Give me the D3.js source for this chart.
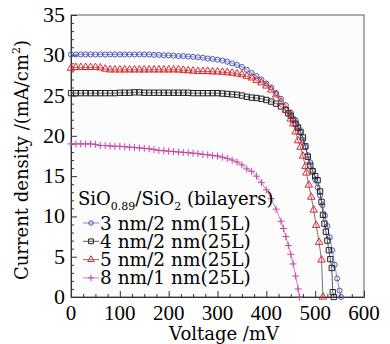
<!DOCTYPE html>
<html>
<head>
<meta charset="utf-8">
<script src="https://cdn.jsdelivr.net/npm/d3@7"></script>
<style>
  body { margin: 0; background: #fff; }
  svg { font-family: "DejaVu Serif", "Liberation Serif", serif; }
  .num { font-family: "Liberation Serif", serif; }
</style>
</head>
<body>
<div id="chart"></div>
<script>
// J-V curves, SiO0.89/SiO2 bilayer cells
// voltage (mV) / current density (mA/cm2)

const xTicks = [0, 100, 200, 300, 400, 500, 600];
const yTicks = [0, 5, 10, 15, 20, 25, 30, 35];

const seriesNames = ['3 nm/2 nm(15L)', '4 nm/2 nm(25L)', '5 nm/2 nm(25L)', '8 nm/1 nm(25L)'];

const blueV = [0,10,20,30,40,50,60,70,80,90,100,110,120,130,140,150,160,170,180,190,200,210,220,230,240,250,260,270,280,290,300,310,320,330,340,350,360,370,380,390,400,410,420,430,440,450,460,465,470,475,480,485,490,495,500,505,510,515,520,525,530,535,540,545,550,553];
const blueJ = [30.1,30.1,30.1,30.1,30.1,30.1,30.1,30.1,30.1,30.1,30.1,30.1,30.1,30.1,30.1,30.1,30.1,30.05,30.05,30.0,30.0,29.95,29.9,29.9,29.85,29.8,29.75,29.7,29.6,29.55,29.45,29.35,29.2,29.0,28.8,28.55,28.2,27.8,27.4,27.0,26.5,26.0,25.3,24.6,23.8,22.9,21.9,21.2,20.4,19.5,18.6,17.6,16.7,15.7,14.6,13.6,12.6,11.4,10.1,8.8,7.4,5.8,4.0,2.3,0.8,0];

const blackV = [0,10,20,30,40,50,60,70,80,90,100,110,120,130,140,150,160,170,180,190,200,210,220,230,240,250,260,270,280,290,300,310,320,330,340,350,360,370,380,390,400,410,420,430,440,445,450,455,460,465,470,475,480,485,490,495,500,505,510,513,516,519,522,525,528,531,534,536,538];
const blackJ = [25.3,25.3,25.3,25.3,25.3,25.3,25.3,25.3,25.3,25.3,25.35,25.35,25.35,25.4,25.4,25.35,25.35,25.35,25.35,25.35,25.35,25.35,25.35,25.35,25.35,25.3,25.3,25.3,25.3,25.3,25.3,25.25,25.2,25.15,25.1,25.0,24.85,24.75,24.7,24.6,24.45,24.25,24.0,23.65,23.2,22.8,22.5,22.0,21.5,21.0,20.5,19.8,18.7,17.4,16.3,15.6,15.0,14.5,13.1,11.8,10.2,9.1,8.1,7.0,5.8,4.7,3.6,0.6,0];

const redV = [0,10,20,30,40,50,60,70,80,90,100,110,120,130,140,150,160,170,180,190,200,210,220,230,240,250,260,270,280,290,300,310,320,330,340,350,360,370,380,390,400,410,420,430,440,450,455,460,465,470,475,480,482,487,492,497,502,508,513,516];
const redJ = [28.4,28.5,28.5,28.5,28.5,28.5,28.45,28.3,28.2,28.2,28.2,28.2,28.2,28.2,28.2,28.2,28.2,28.2,28.2,28.2,28.2,28.2,28.2,28.15,28.1,28.05,28.0,28.0,28.0,27.95,27.95,27.9,27.85,27.8,27.7,27.6,27.4,27.2,26.9,26.6,26.2,25.7,25.1,24.2,23.2,22.1,21.5,20.5,19.4,18.6,17.5,16.2,15.4,13.9,12.4,10.8,8.9,6.8,4.6,0];

const pinkV = [0,10,20,30,40,50,60,70,80,90,100,110,120,130,140,150,160,170,180,190,200,210,220,230,240,250,260,270,280,290,300,310,320,330,340,350,360,370,380,390,400,410,420,430,435,440,445,450,455,460,465,468];
const pinkJ = [19.0,19.0,19.0,19.0,19.0,18.95,18.8,18.8,18.75,18.7,18.7,18.65,18.6,18.55,18.5,18.45,18.4,18.3,18.2,18.15,18.1,18.05,18.0,17.95,17.9,17.85,17.8,17.7,17.65,17.55,17.5,17.35,17.2,17.0,16.75,16.4,15.9,15.6,15.0,14.2,13.3,12.2,10.9,9.4,8.5,7.5,6.4,5.3,4.1,2.6,1.0,0];

const width = 390, height = 344;
const svg = d3.select('#chart').append('svg')
  .attr('width', width)
  .attr('height', height);

const x = d3.scaleLinear().domain([0, 600]).range([71, 364]);
const y = d3.scaleLinear().domain([0, 35]).range([297, 15]);

// thin plus marker
const plusSymbol = {
  draw(ctx, size) {
    const r = Math.sqrt(size) / 2;
    ctx.moveTo(-r, 0); ctx.lineTo(r, 0);
    ctx.moveTo(0, -r); ctx.lineTo(0, r);
  }
};

const series = [
  { name: seriesNames[0], v: blueV, j: blueJ, mark: '#4b56b8', line: '#6a72b8', sym: d3.symbolCircle, size: 20 },
  { name: seriesNames[1], v: blackV, j: blackJ, mark: '#222', line: '#333', sym: d3.symbolSquare, size: 28 },
  { name: seriesNames[2], v: redV, j: redJ, mark: '#e8242c', line: '#555', sym: d3.symbolTriangle, size: 24 },
  { name: seriesNames[3], v: pinkV, j: pinkJ, mark: '#c445a8', line: '#c860b4', sym: plusSymbol, size: 49 }
];

// frame
svg.append('rect')
  .attr('x', 71).attr('y', 15)
  .attr('width', 293).attr('height', 282)
  .attr('fill', '#fcfcfc')
  .attr('stroke', '#777').attr('stroke-width', 1.2);

// axes, ticks inward
const xAxis = svg.append('g').attr('transform', 'translate(0,297)');
xAxis.call(d3.axisBottom(x).tickValues(d3.range(0, 601, 25)).tickSize(-3).tickFormat(''));
xAxis.call(g => g.selectAll('.tick line').filter(d => d % 100 === 0).attr('y2', -6));
xAxis.select('.domain').attr('stroke', '#333');

const yAxis = svg.append('g').attr('transform', 'translate(71,0)');
yAxis.call(d3.axisLeft(y).tickValues(d3.range(0, 36, 1)).tickSize(-3).tickFormat(''));
yAxis.call(g => g.selectAll('.tick line').filter(d => d % 5 === 0).attr('x2', 6));
yAxis.select('.domain').attr('stroke', '#333');

svg.selectAll('.tick line').attr('stroke', '#333');

svg.append('g').selectAll('text')
  .data(xTicks).enter().append('text')
  .attr('class', 'num')
  .attr('x', d => x(d))
  .attr('y', 320)
  .attr('text-anchor', 'middle')
  .attr('font-size', 21)
  .text(d => d);

svg.append('g').selectAll('text')
  .data(yTicks).enter().append('text')
  .attr('class', 'num')
  .attr('x', 65)
  .attr('y', d => y(d) + 7)
  .attr('text-anchor', 'end')
  .attr('font-size', 22)
  .text(d => d);

// axis titles
svg.append('text')
  .attr('x', 224).attr('y', 340)
  .attr('text-anchor', 'middle')
  .attr('font-size', 18)
  .text('Voltage /mV');

const yTitle = svg.append('text')
  .attr('transform', 'translate(28,160) rotate(-90)')
  .attr('text-anchor', 'middle')
  .attr('font-size', 18);
yTitle.append('tspan').text('Current density /(mA/cm');
yTitle.append('tspan').attr('font-size', 11).attr('dy', -8).text('2');
yTitle.append('tspan').attr('dy', 8).text(')');

// curves
const line = d3.line().x(d => x(d[0])).y(d => y(d[1]));

series.forEach(s => {
  const pts = s.v.map((v, i) => [v, s.j[i]]);
  const g = svg.append('g');
  g.append('path')
    .attr('d', line(pts))
    .attr('fill', 'none')
    .attr('stroke', s.line)
    .attr('stroke-width', 0.8);
  g.selectAll('path.m')
    .data(pts).enter().append('path')
    .attr('class', 'm')
    .attr('transform', d => `translate(${x(d[0])},${y(d[1])})`)
    .attr('d', d3.symbol().type(s.sym).size(s.size))
    .attr('fill', 'none')
    .attr('stroke', s.mark)
    .attr('stroke-width', 1);
});

// legend
const legTitle = svg.append('text')
  .attr('x', 78).attr('y', 205)
  .attr('font-size', 18);
legTitle.append('tspan').text('SiO');
legTitle.append('tspan').attr('font-size', 11).attr('dy', 5).text('0.89');
legTitle.append('tspan').attr('dy', -5).text('/SiO');
legTitle.append('tspan').attr('font-size', 11).attr('dy', 5).text('2');
legTitle.append('tspan').attr('dy', -5).text(' (bilayers)');

series.forEach((s, i) => {
  const cy = 223 + i * 18.3;
  svg.append('line')
    .attr('x1', 83).attr('x2', 99)
    .attr('y1', cy).attr('y2', cy)
    .attr('stroke', s.line).attr('stroke-width', 0.8);
  svg.append('path')
    .attr('transform', `translate(91,${cy})`)
    .attr('d', d3.symbol().type(s.sym).size(s.size * 0.8))
    .attr('fill', 'none')
    .attr('stroke', s.mark)
    .attr('stroke-width', 1);
  svg.append('text')
    .attr('x', 100).attr('y', cy + 6.5)
    .attr('font-size', 18.5)
    .text(s.name);
});
</script>
</body>
</html>
